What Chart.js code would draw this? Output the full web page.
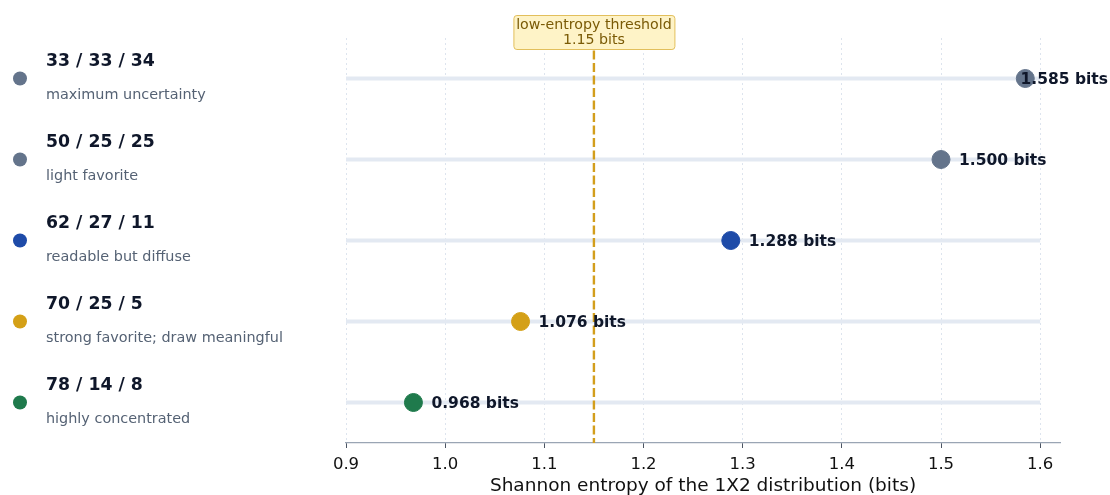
<!DOCTYPE html>
<html>
<head>
<meta charset="utf-8">
<script src="https://cdn.jsdelivr.net/npm/chart.js@4.4.0/dist/chart.umd.min.js"></script>
<style>
  html, body { margin: 0; padding: 0; background: #ffffff; }
  #wrap { width: 1110px; height: 495px; }
</style>
</head>
<body>
<div id="wrap"><canvas id="entropyChart" width="1110" height="495"></canvas></div>
<script>
// chart data
const splits = ["33 / 33 / 34", "50 / 25 / 25", "62 / 27 / 11", "70 / 25 / 5", "78 / 14 / 8"];
const notes = ["maximum uncertainty", "light favorite", "readable but diffuse", "strong favorite; draw meaningful", "highly concentrated"];
const entropyBits = [1.585, 1.500, 1.288, 1.076, 0.968];
const dotColors = ["#64748b", "#64748b", "#1e4ba8", "#d4a017", "#1f7a4c"];
const xTicks = [0.9, 1.0, 1.1, 1.2, 1.3, 1.4, 1.5, 1.6];
const trackRange = [0.9, 1.6];
const threshold = 1.15;

const FONT = "'DejaVu Sans', sans-serif";
Chart.defaults.font.family = FONT;

// tracks, threshold line, value labels, left legend, threshold note
const decorPlugin = {
  id: "decor",
  beforeDatasetsDraw(chart) {
    const ctx = chart.ctx;
    const xs = chart.scales.x, ys = chart.scales.y;
    const area = chart.chartArea;
    ctx.save();
    // light tracks behind each dot
    ctx.strokeStyle = "#e3e9f2";
    ctx.lineWidth = 4;
    for (let i = 0; i < entropyBits.length; i++) {
      const y = ys.getPixelForValue(i);
      ctx.beginPath();
      ctx.moveTo(xs.getPixelForValue(trackRange[0]), y);
      ctx.lineTo(xs.getPixelForValue(trackRange[1]), y);
      ctx.stroke();
    }
    // threshold
    const tx = xs.getPixelForValue(threshold);
    ctx.strokeStyle = "#d39e1c";
    ctx.lineWidth = 2.4;
    ctx.setLineDash([9, 3.5]);
    ctx.beginPath();
    ctx.moveTo(tx, area.top);
    ctx.lineTo(tx, area.bottom);
    ctx.stroke();
    ctx.restore();
  },
  afterDraw(chart) {
    const ctx = chart.ctx;
    const xs = chart.scales.x, ys = chart.scales.y;
    ctx.save();

    // value labels next to the dots
    ctx.font = "bold 15.5px " + FONT;
    ctx.fillStyle = "#0f172a";
    ctx.textBaseline = "middle";
    ctx.textAlign = "left";
    for (let i = 0; i < entropyBits.length; i++) {
      const txt = entropyBits[i].toFixed(3) + " bits";
      const w = ctx.measureText(txt).width;
      let x = xs.getPixelForValue(entropyBits[i]) + 18;
      if (x + w > chart.width - 2) x = chart.width - 2 - w;
      ctx.fillText(txt, x, ys.getPixelForValue(i) + 1);
    }

    // left legend
    for (let i = 0; i < splits.length; i++) {
      const y = ys.getPixelForValue(i);
      ctx.fillStyle = dotColors[i];
      ctx.beginPath();
      ctx.arc(20, y, 7, 0, Math.PI * 2);
      ctx.fill();
      ctx.fillStyle = "#0f172a";
      ctx.font = "bold 17.3px " + FONT;
      ctx.fillText(splits[i], 46, y - 17);
      ctx.fillStyle = "#556274";
      ctx.font = "14.4px " + FONT;
      ctx.fillText(notes[i], 46, y + 17);
    }

    // threshold note
    const tx = xs.getPixelForValue(threshold);
    const bw = 161, bh = 34, by = 15;
    ctx.fillStyle = "#fef3c7";
    ctx.strokeStyle = "#e2bf5c";
    ctx.lineWidth = 1;
    ctx.beginPath();
    ctx.roundRect(tx - bw / 2 + 0.5, by + 0.5, bw, bh, 3);
    ctx.fill();
    ctx.stroke();
    ctx.fillStyle = "#7a5a06";
    ctx.font = "14.2px " + FONT;
    ctx.textAlign = "center";
    ctx.fillText("low-entropy threshold", tx, by + 10);
    ctx.fillText(threshold.toFixed(2) + " bits", tx, by + 25);
    ctx.restore();
  }
};

const ctx = document.getElementById("entropyChart").getContext("2d");
const chart = new Chart(ctx, {
  type: "scatter",
  data: {
    datasets: [{
      data: entropyBits.map((v, i) => ({ x: v, y: i })),
      backgroundColor: dotColors,
      borderColor: dotColors,
      pointRadius: 9,
      pointHoverRadius: 9
    }]
  },
  options: {
    responsive: false,
    animation: false,
    layout: { padding: { left: 346, right: 50, top: 38, bottom: 0 } },
    plugins: { legend: { display: false }, tooltip: { enabled: false } },
    scales: {
      x: {
        type: "linear",
        min: 0.9,
        max: 1.62,
        afterBuildTicks: s => { s.ticks = xTicks.map(v => ({ value: v })); },
        afterFit: s => { s.height = 52; },
        grid: {
          color: "#dde4ee",
          lineWidth: 1,
          drawTicks: true,
          tickLength: 5,
          tickColor: "#4b5563",
          tickBorderDash: []
        },
        border: { display: true, color: "#9aa5b4", width: 1.2, dash: [2, 3] },
        ticks: {
          color: "#111111",
          padding: 7,
          font: { size: 16.5 },
          callback: v => Number(v).toFixed(1)
        },
        title: {
          display: true,
          text: "Shannon entropy of the 1X2 distribution (bits)",
          color: "#111111",
          font: { size: 18.5, lineHeight: 1 },
          padding: { top: 0, bottom: 0 }
        }
      },
      y: {
        type: "linear",
        display: false,
        min: -0.5,
        max: 4.5,
        reverse: true
      }
    }
  },
  plugins: [decorPlugin]
});
</script>
</body>
</html>
